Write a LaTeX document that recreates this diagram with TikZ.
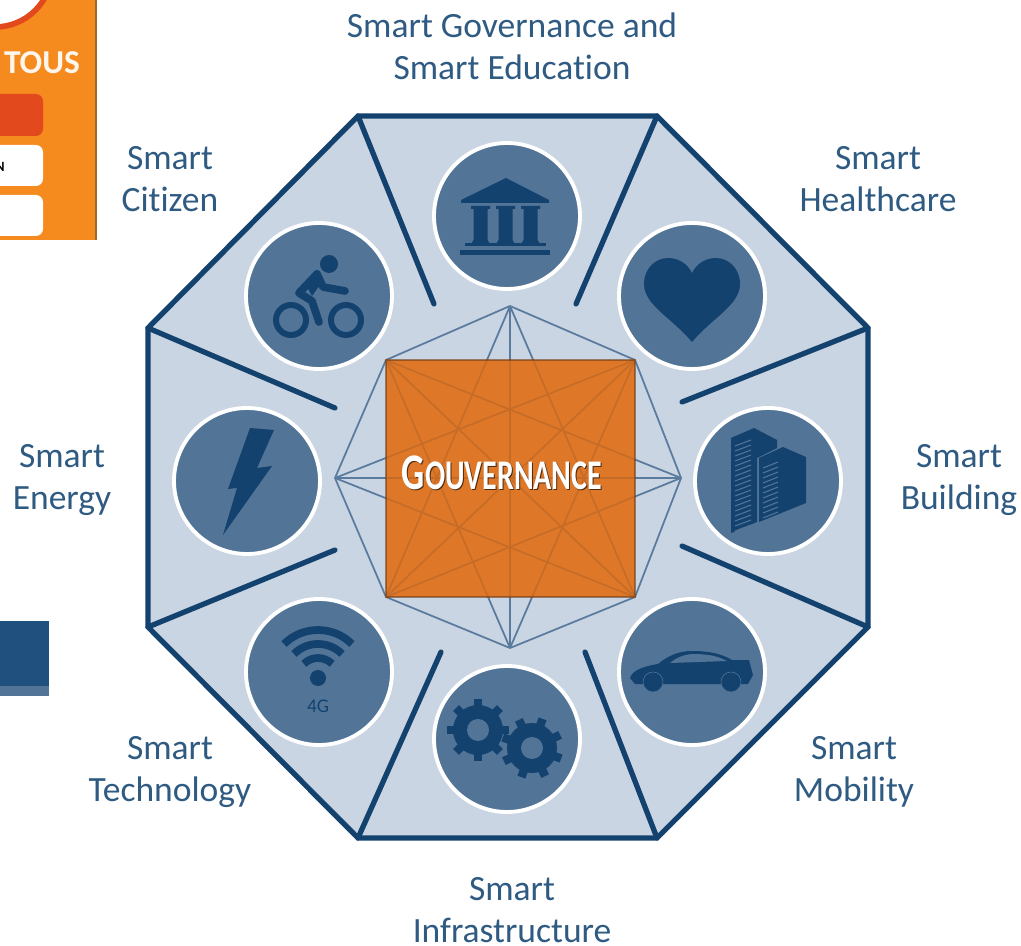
\documentclass[tikz,border=0pt]{standalone}
\usepackage{fontspec}
\setmainfont[Ligatures=NoCommon]{Carlito}
\usetikzlibrary{positioning,calc}
\definecolor{panel}{HTML}{C9D5E2}
\definecolor{navy}{HTML}{14426F}
\definecolor{disc}{HTML}{527497}
\definecolor{labelblue}{HTML}{2F5B82}
\definecolor{linkblue}{HTML}{5A7B9E}
\definecolor{square}{HTML}{DE7828}
\definecolor{squareline}{HTML}{C76C27}
\definecolor{flyer}{HTML}{F58A1E}
\definecolor{flyerred}{HTML}{E2491D}
\definecolor{strip}{HTML}{20507D}
\tikzset{border/.style={draw=navy,line width=1.5pt,line join=miter,fill=panel}}
\tikzset{spoke/.style={draw=navy,line width=1.5pt,line cap=round}}
\tikzset{badge/.style={draw=white,line width=1.1pt,fill=disc}}
\tikzset{icon/.style={fill=navy,draw=none}}
\tikzset{iconline/.style={draw=navy,line cap=round,line join=round}}
\tikzset{link/.style={draw=linkblue,line width=.5pt}}
\tikzset{caption/.style={text=labelblue,align=center,font=\fontsize{10.1}{11.9}\selectfont}}
\tikzset{title/.style={inner sep=0pt,font=\bfseries,xscale=.71}}
\newcommand{\hublinks}{n/ne,ne/e,e/se,se/s,s/sw,sw/w,w/nw,nw/n,n/s,w/e,nw/se,ne/sw,n/sw,n/se,w/ne,w/se,e/nw,e/sw,s/nw,s/ne}
\begin{document}
\begin{tikzpicture}[x=.01cm,y=-.01cm]
  \useasboundingbox (0,0) rectangle (1021,946);

  % cropped neighbours
  \begin{scope}
    \clip (0,0) rectangle (97,240);
    \fill[flyer] (0,0) rectangle (96,240);
    \draw[color=brown!80!black,line width=.3pt] (96,0) -- (96,240);
    \draw[draw=flyerred,fill=white,line width=1.6pt] (-5,-30) circle (57);
    \fill[flyerred,rounded corners=2pt] (-20,94) rectangle (43,136);
    \fill[white,rounded corners=2pt] (-20,145) rectangle (43,186);
    \fill[white,rounded corners=2pt] (-20,195) rectangle (43,236);
    \node[text=white!92!flyer,inner sep=0pt,font=\fontsize{9.5}{10}\selectfont\bfseries] (tous) at (42,63) {TOUS};
    \node[text=black,inner sep=0pt,font=\fontsize{4}{5}\selectfont\bfseries] (letter) at (0,167) {N};
  \end{scope}
  \fill[color=strip] (0,621) rectangle (49,686);
  \fill[color=disc] (0,686) rectangle (49,696);

  % octagon and spokes
  \draw[border] (358,116) -- (657,116) -- (868,328) -- (868,627) -- (657,838) -- (358,838) -- (148,627) -- (148,328) -- cycle;
  \foreach \ax/\ay/\bx/\by in {358/116/434/304,657/116/576/304,868/328/682/402,868/627/682/546,
                               657/838/585/652,358/838/441/652,148/627/335/550,148/328/335/408}
    \draw[spoke] (\ax,\ay) -- (\bx,\by);

  % badges
  \foreach \x/\y in {507/216,692/296,768/481,692/672,507/739,319/672,247/481,319/296}
    \draw[badge] (\x,\y) circle (73);

  % hub
  \coordinate (n) at (510,306);
  \coordinate (ne) at (635,360);
  \coordinate (e) at (681,478);
  \coordinate (se) at (635,597);
  \coordinate (s) at (510,648);
  \coordinate (sw) at (386,597);
  \coordinate (w) at (335,478);
  \coordinate (nw) at (386,360);
  \foreach \a/\b in \hublinks
    \draw[link] (\a) -- (\b);
  \fill[square] (nw) rectangle (se);
  \begin{scope}
    \clip (nw) rectangle (se);
    \foreach \a/\b in \hublinks
      \draw[link,draw=squareline] (\a) -- (\b);
  \end{scope}
  \draw[draw=black!50!square,opacity=.6,line width=.5pt] (nw) rectangle (se);
  \node[title,text=black!65!square] (shade) at (503,473.5) {\fontsize{14.6}{15}\selectfont G\fontsize{12}{15}\selectfont OUVERNANCE};
  \node[title,text=white] (hubtitle) at (502,472.5) {\fontsize{14.6}{15}\selectfont G\fontsize{12}{15}\selectfont OUVERNANCE};

  % temple
  \fill[icon] (461,200) -- (506,178) -- (549,200) -- (549,203) -- (461,203) -- cycle;
  \foreach \x in {471,496,521}
    \fill[icon] (\x,206) -- (\x+19,206) -- (\x+19,209) -- (\x+16.5,209) -- (\x+16.5,240) -- (\x+19,244) -- (\x,244) -- (\x+2.5,240) -- (\x+2.5,209) -- (\x,209) -- cycle;
  \fill[icon] (465,243) rectangle (546,246);
  \fill[icon] (460,250) rectangle (550,255);

  % heart
  \fill[icon] (692,342) .. controls (672,318) and (644,305) .. (644,284) .. controls (644,268) and (656,258) .. (668,258)
    .. controls (680,258) and (688,265) .. (692,273) .. controls (696,265) and (704,258) .. (716,258)
    .. controls (728,258) and (740,268) .. (740,284) .. controls (740,305) and (712,318) .. (692,342) -- cycle;

  % building
  \fill[icon] (731,438) -- (754,428) -- (777,440) -- (777,448) -- (757,458) -- (757,522) -- (731,533) -- cycle;
  \fill[icon] (759,458) -- (783,447) -- (806,457) -- (806,503) -- (759,522) -- cycle;
  \foreach \y in {446,451,...,531}
    \draw[color=disc,line width=.3pt] (735,\y) -- (751,\y-6);
  \foreach \y in {468,473,...,518}
    \draw[color=disc,line width=.3pt] (763,\y) -- (778,\y-6);

  % car
  \fill[icon] (630,678) .. controls (632,670) and (645,666) .. (658,664) .. controls (668,656) and (678,651) .. (692,651)
    .. controls (710,651) and (722,654) .. (732,660) -- (749,660) -- (753,675) -- (748,684) -- (635,684) -- cycle;
  \fill[color=disc] (670,663) .. controls (676,658) and (682,655) .. (692,654) .. controls (705,654) and (716,655) .. (727,661) -- cycle;
  \foreach \x in {653,731} {
    \fill[icon] (\x,682) circle (10);
    \draw[color=disc,line width=.15pt] (\x,682) circle (10);
  }

  % gears
  \foreach \gx/\gy/\ga in {478/730/0,532/748/20} {
    \foreach \t in {0,45,...,315}
      \draw[draw=navy,line width=2.4pt] ([shift={(\t+\ga:18)}]\gx,\gy) -- ([shift={(\t+\ga:31)}]\gx,\gy);
    \fill[icon] (\gx,\gy) circle (25);
    \fill[color=disc] (\gx,\gy) circle (11);
  }

  % wifi
  \foreach \r in {20,34,48}
    \draw[draw=navy,line width=2.2pt] ([shift={(225:\r)}]318,678) arc[start angle=225,end angle=315,radius=\r];
  \fill[icon] (318,678) circle (8);
  \node[text=navy,inner sep=0pt,font=\fontsize{5.5}{6}\selectfont] (fourg) at (318,706) {4G};

  % bike
  \foreach \x in {291,346}
    \draw[draw=navy,line width=1.7pt] (\x,320) circle (15);
  \fill[icon] (329,264) circle (9);
  \draw[iconline,line width=2.2pt] (317,274) -- (299,293) -- (312,301) -- (319,322);
  \draw[iconline,line width=2.2pt] (317,274) -- (323,287) -- (345,291);
  \fill[icon] (317,272) -- (306,285) -- (312,296) -- (322,282) -- cycle;

  % bolt
  \fill[icon] (250,428) -- (274,430) -- (257,468) -- (272,466) -- (223,535) -- (237,488) -- (228,489) -- cycle;

  % captions
  \node[caption] (govern) at (512,46) {Smart Governance and\\Smart Education};
  \node[caption] (citizen) at (170,179.5) {Smart\\Citizen};
  \node[caption] (health) at (878,179.5) {Smart\\Healthcare};
  \node[caption] (energy) at (62,480) {Smart\\Energy};
  \node[caption] (build) at (959,480) {Smart\\Building};
  \node[caption] (tech) at (170,772) {Smart\\Technology};
  \node[caption] (mobil) at (854,772) {Smart\\Mobility};
  \node[caption] (infra) at (512,910) {Smart\\Infrastructure};
\end{tikzpicture}
\end{document}
